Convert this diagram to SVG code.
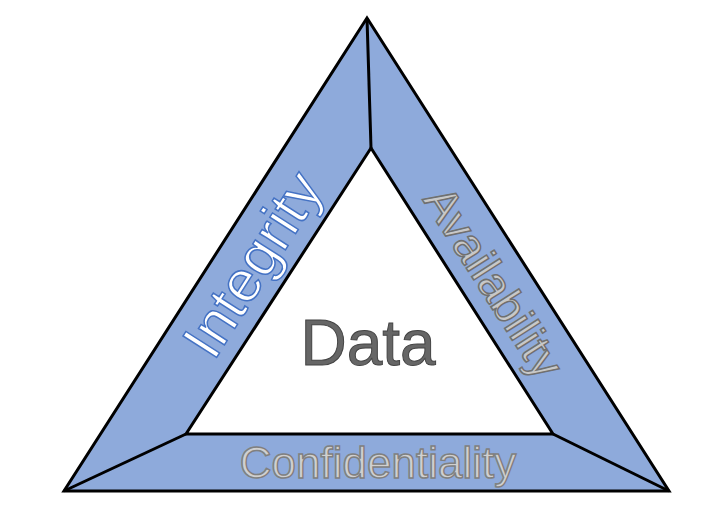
<svg xmlns="http://www.w3.org/2000/svg" width="704" height="520" viewBox="0 0 704 520">
<style>
.edge{fill:#8eaadb;stroke:#000;stroke-width:3;stroke-linejoin:miter}
.ln{stroke:#000;stroke-width:3;fill:none}
.t{font-family:"Liberation Sans",Arial,sans-serif;text-anchor:middle;dominant-baseline:central}
</style>
<rect width="704" height="520" fill="#fff"/>
<g id="ring">
<path class="edge" fill-rule="evenodd" d="M367,18 L669,491 L64,491 Z M371,148 L186,434 L553,434 Z"/>
</g>
<g id="connectors">
<line class="ln" x1="367" y1="18" x2="371" y2="148"/>
<line class="ln" x1="64" y1="491" x2="186" y2="434"/>
<line class="ln" x1="669" y1="491" x2="553" y2="434"/>
</g>
<g id="integrity"><text class="t" transform="translate(252,264) rotate(-57.4)" font-size="58" fill="#fff" stroke="#4472c4" stroke-width="1.5">Integrity</text></g>
<g id="availability"><text class="t" transform="translate(494,282) rotate(57.4)" font-size="46" fill="#c8c8c8" stroke="#707070" stroke-width="1.5">Availability</text></g>
<g id="confidentiality"><text class="t" x="378" y="462" font-size="44" fill="#d0d0d0" stroke="#808080" stroke-width="1.5">Confidentiality</text></g>
<g id="data"><text class="t" x="368" y="343" font-size="64" fill="#666" stroke="#444" stroke-width="1">Data</text></g>
</svg>
